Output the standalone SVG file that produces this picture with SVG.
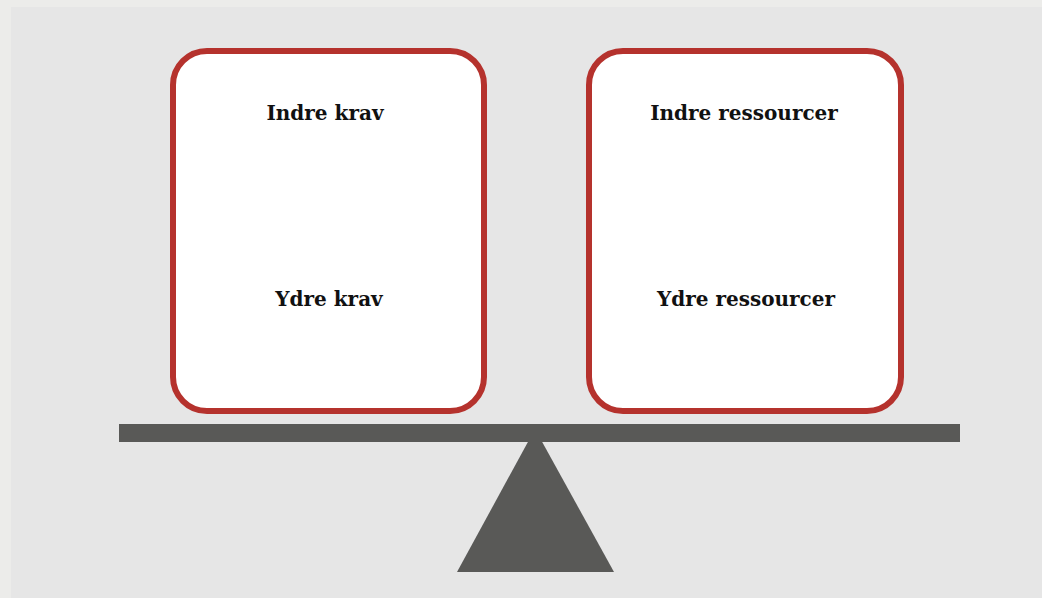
<svg xmlns="http://www.w3.org/2000/svg" width="1042" height="598" viewBox="0 0 1042 598">
<style>
.box{fill:#ffffff;stroke:#b5322d;stroke-width:6}
.lbl{font-family:"DejaVu Serif","Liberation Serif",serif;font-weight:bold;font-size:20px;fill:#111111;text-anchor:middle}
.dark{fill:#595957}
</style>
<rect x="0" y="0" width="1042" height="598" fill="#ececea"/>
<rect x="11" y="7" width="1031" height="591" fill="#e6e6e6"/>
<g id="fulcrum"><polygon class="dark" points="535,429 457,572 614,572"/></g>
<g id="beam"><rect class="dark" x="119" y="424" width="841" height="18"/></g>
<g id="krav">
<rect class="box" x="173" y="51" width="311" height="360" rx="34"/>
<text class="lbl" x="325" y="120">Indre krav</text>
<text class="lbl" x="329" y="306">Ydre krav</text>
</g>
<g id="ressourcer">
<rect class="box" x="589" y="51" width="312" height="360" rx="34"/>
<text class="lbl" x="744" y="120">Indre ressourcer</text>
<text class="lbl" x="746" y="306">Ydre ressourcer</text>
</g>
<g id="connectors"></g>
</svg>
